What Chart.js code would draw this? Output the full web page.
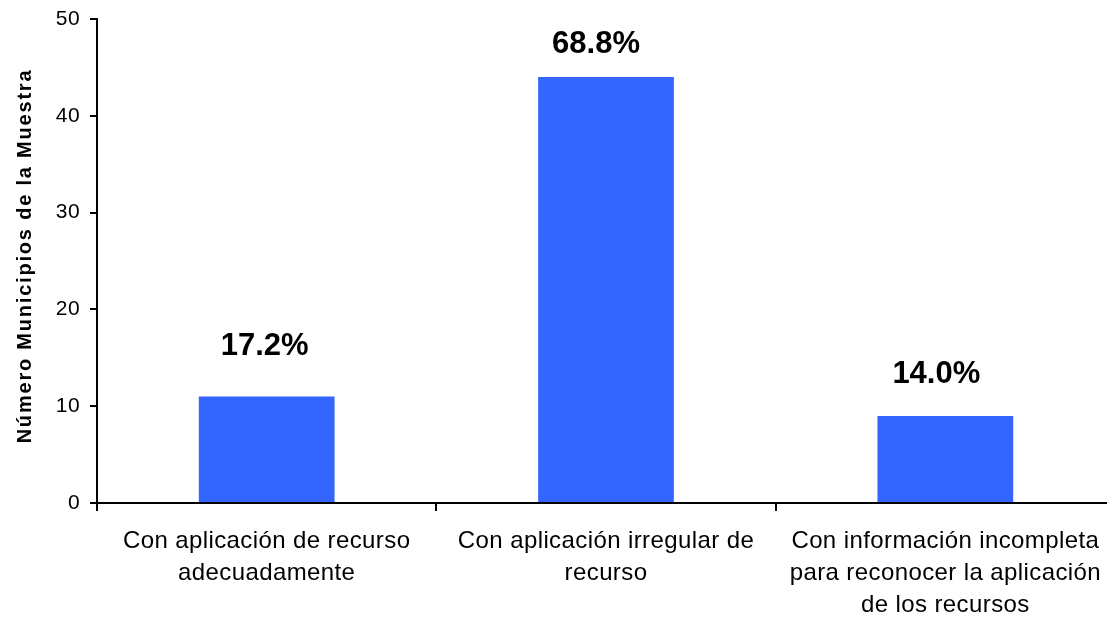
<!DOCTYPE html>
<html>
<head>
<meta charset="utf-8">
<script src="https://cdn.jsdelivr.net/npm/chart.js@4.4.1/dist/chart.umd.min.js"></script>
<style>
  body { margin: 0; background: #fff; overflow: hidden; }
  #wrap { width: 1107px; height: 617px; overflow: hidden; }
</style>
</head>
<body>
<div id="wrap"><canvas id="chart1" width="1125" height="617"></canvas></div>
<script>
const categories = [
  ['Con aplicación de recurso', 'adecuadamente'],
  ['Con aplicación irregular de', 'recurso'],
  ['Con información incompleta', 'para reconocer la aplicación', 'de los recursos']
];
const municipios = [11, 44, 9];
const porcentajes = ['17.2%', '68.8%', '14.0%'];
const yTicks = [0, 10, 20, 30, 40, 50];
const yTitle = 'Número Municipios de la Muestra';

const fontFam = '"Liberation Sans", Arial, sans-serif';

// the original text runs a little wider than Liberation Sans
const spacing = {
  id: 'spacing',
  beforeUpdate(chart) { chart.ctx.letterSpacing = '0.4px'; },
  beforeDraw(chart) { chart.ctx.letterSpacing = '0.4px'; }
};

// percentage labels above the bars + the spaced-out y axis title
const extras = {
  id: 'extras',
  afterDatasetsDraw(chart, args, opts) {
    const ctx = chart.ctx;
    const bars = chart.getDatasetMeta(0).data;
    ctx.save();
    ctx.letterSpacing = '0px';
    ctx.font = 'bold 31px ' + fontFam;
    ctx.fillStyle = '#000';
    ctx.textAlign = 'center';
    ctx.textBaseline = 'alphabetic';
    bars.forEach((bar, i) => {
      const off = opts.offsets[i];
      ctx.fillText(porcentajes[i], bar.x + off[0], bar.y - off[1]);
    });
    ctx.restore();
  },
  afterDraw(chart) {
    const ctx = chart.ctx;
    const y = chart.scales.y;
    ctx.save();
    ctx.letterSpacing = '1.8px';
    ctx.font = 'bold 20px ' + fontFam;
    ctx.fillStyle = '#000';
    ctx.textAlign = 'center';
    ctx.textBaseline = 'middle';
    ctx.translate(25, (y.top + y.bottom) / 2 - 5);
    ctx.rotate(-Math.PI / 2);
    ctx.fillText(yTitle, 0, 0);
    ctx.restore();
  }
};

const ctx = document.getElementById('chart1');
new Chart(ctx, {
  type: 'bar',
  data: {
    labels: categories,
    datasets: [{
      data: municipios,
      backgroundColor: '#3366FF',
      borderWidth: 0,
      barPercentage: 0.4,
      categoryPercentage: 1
    }]
  },
  plugins: [spacing, extras],
  options: {
    responsive: false,
    animation: false,
    layout: { padding: { top: 19, right: 10, left: 0, bottom: 0 } },
    plugins: {
      legend: { display: false },
      tooltip: { enabled: false },
      extras: { offsets: [[-2, 42], [-10, 24], [-9, 33]] }
    },
    scales: {
      x: {
        grid: { drawOnChartArea: false, color: '#000', lineWidth: 2, tickLength: 8 },
        border: { color: '#000', width: 2 },
        ticks: {
          color: '#000',
          padding: 14,
          maxRotation: 0,
          autoSkip: false,
          font: { family: fontFam, size: 24, lineHeight: 1.333 }
        },
        afterFit(scale) { scale.height = 114; }
      },
      y: {
        min: 0,
        max: 50,
        afterBuildTicks(scale) { scale.ticks = yTicks.map(v => ({ value: v })); },
        grid: { drawOnChartArea: false, color: '#000', lineWidth: 2, tickLength: 7 },
        border: { color: '#000', width: 2 },
        ticks: {
          color: '#000',
          padding: 10,
          font: { family: fontFam, size: 21 }
        },
        afterFit(scale) {
          scale.width = 97;
          scale.paddingTop = 0;
          scale.paddingBottom = 0;
        }
      }
    }
  }
});
</script>
</body>
</html>
